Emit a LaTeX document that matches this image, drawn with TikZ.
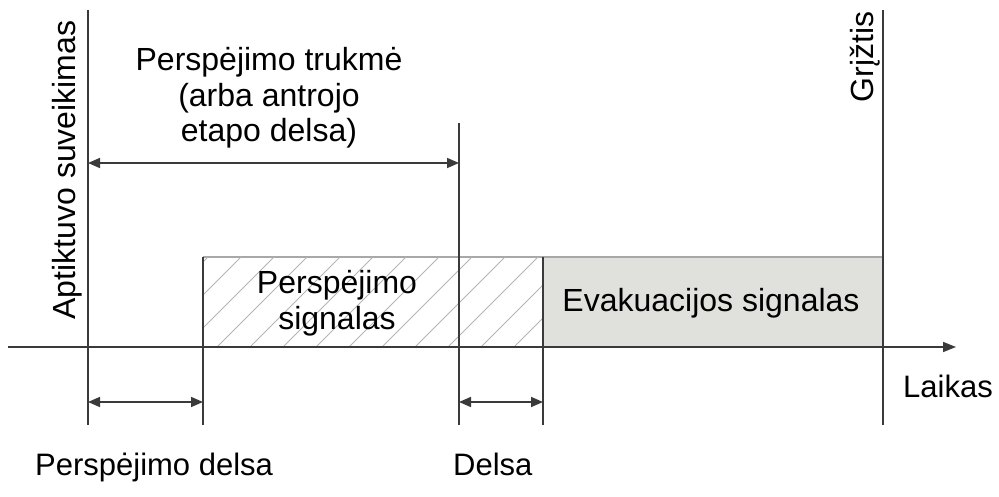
\documentclass[tikz,border=0pt]{standalone}
\usepackage{fontspec}
\setmainfont{Liberation Sans}
\usetikzlibrary{arrows.meta}
\definecolor{ln}{HTML}{3A3A3A}
\definecolor{boxfill}{HTML}{E0E0DD}
\definecolor{boxedge}{HTML}{A8A8A8}
\definecolor{hatchc}{HTML}{B4B4B4}
\tikzset{
  lbl/.style={inner sep=0pt, font=\fontsize{32}{37}\selectfont, text=black},
  lbls/.style={inner sep=0pt, font=\fontsize{31}{37}\selectfont, text=black},
  vline/.style={draw=ln, line width=1.6pt},
  dim/.style={draw=ln, line width=1.6pt, {Triangle[length=12pt,width=10pt]}-{Triangle[length=12pt,width=10pt]}},
  hatchline/.style={draw=hatchc, line width=0.9pt},
}
\begin{document}
\begin{tikzpicture}[x=1pt,y=-1pt]
\useasboundingbox (0,0) rectangle (999,497);
% coordinates
\coordinate (axL) at (8,347);
\coordinate (axR) at (956,347);
\coordinate (v1t) at (88,10);   \coordinate (v1b) at (88,425);
\coordinate (v2t) at (203,257); \coordinate (v2b) at (203,425);
\coordinate (v3t) at (459,123); \coordinate (v3b) at (459,425);
\coordinate (v4t) at (543,257); \coordinate (v4b) at (543,425);
\coordinate (v5t) at (883,10);  \coordinate (v5b) at (883,425);
\coordinate (t1) at (88,163);  \coordinate (t2) at (459,163);
\coordinate (b1) at (88,402);  \coordinate (b2) at (203,402);
\coordinate (b3) at (459,402); \coordinate (b4) at (543,402);
% evacuation box
\fill[boxfill] (543,257) rectangle (883,347);
\draw[draw=boxedge, line width=1.2pt] (203,257) -- (883,257);
% hatch
\begin{scope}
\clip (203,257) rectangle (543,347);
\foreach \x in {118,151,...,550} \draw[hatchline] (\x,347) -- ++(90,-90);
\end{scope}
% axis
\draw[draw=ln, line width=1.6pt, -{Triangle[length=13pt,width=10pt]}] (axL) -- (axR);
% vertical lines
\draw[vline] (v1t) -- (v1b);
\draw[vline] (v2t) -- (v2b);
\draw[vline] (v3t) -- (v3b);
\draw[vline] (v4t) -- (v4b);
\draw[vline] (v5t) -- (v5b);
% dimension arrows
\draw[dim] (t1) -- (t2);
\draw[dim] (b1) -- (b2);
\draw[dim] (b3) -- (b4);
% labels
\node[lbl, anchor=base] (tr1) at (269,71) {Perspėjimo trukmė};
\node[lbl, anchor=base] (tr2) at (269,107) {(arba antrojo};
\node[lbl, anchor=base] (tr3) at (269,142) {etapo delsa)};
\node[lbl, anchor=base] (ps1) at (337,294) {Perspėjimo};
\node[lbl, anchor=base] (ps2) at (337,329) {signalas};
\node[lbl, anchor=base] (ev) at (711,311) {Evakuacijos signalas};
\node[lbls, anchor=base west] (laik) at (903,397) {Laikas};
\node[lbls, anchor=base west] (pd) at (35,475) {Perspėjimo delsa};
\node[lbls, anchor=base west] (dl) at (453,475) {Delsa};
\node[lbl, anchor=base, rotate=90] (apt) at (75,170) {Aptiktuvo suveikimas};
\node[lbl, anchor=base, rotate=90] (grz) at (873,57) {Grįžtis};
\end{tikzpicture}
\end{document}
